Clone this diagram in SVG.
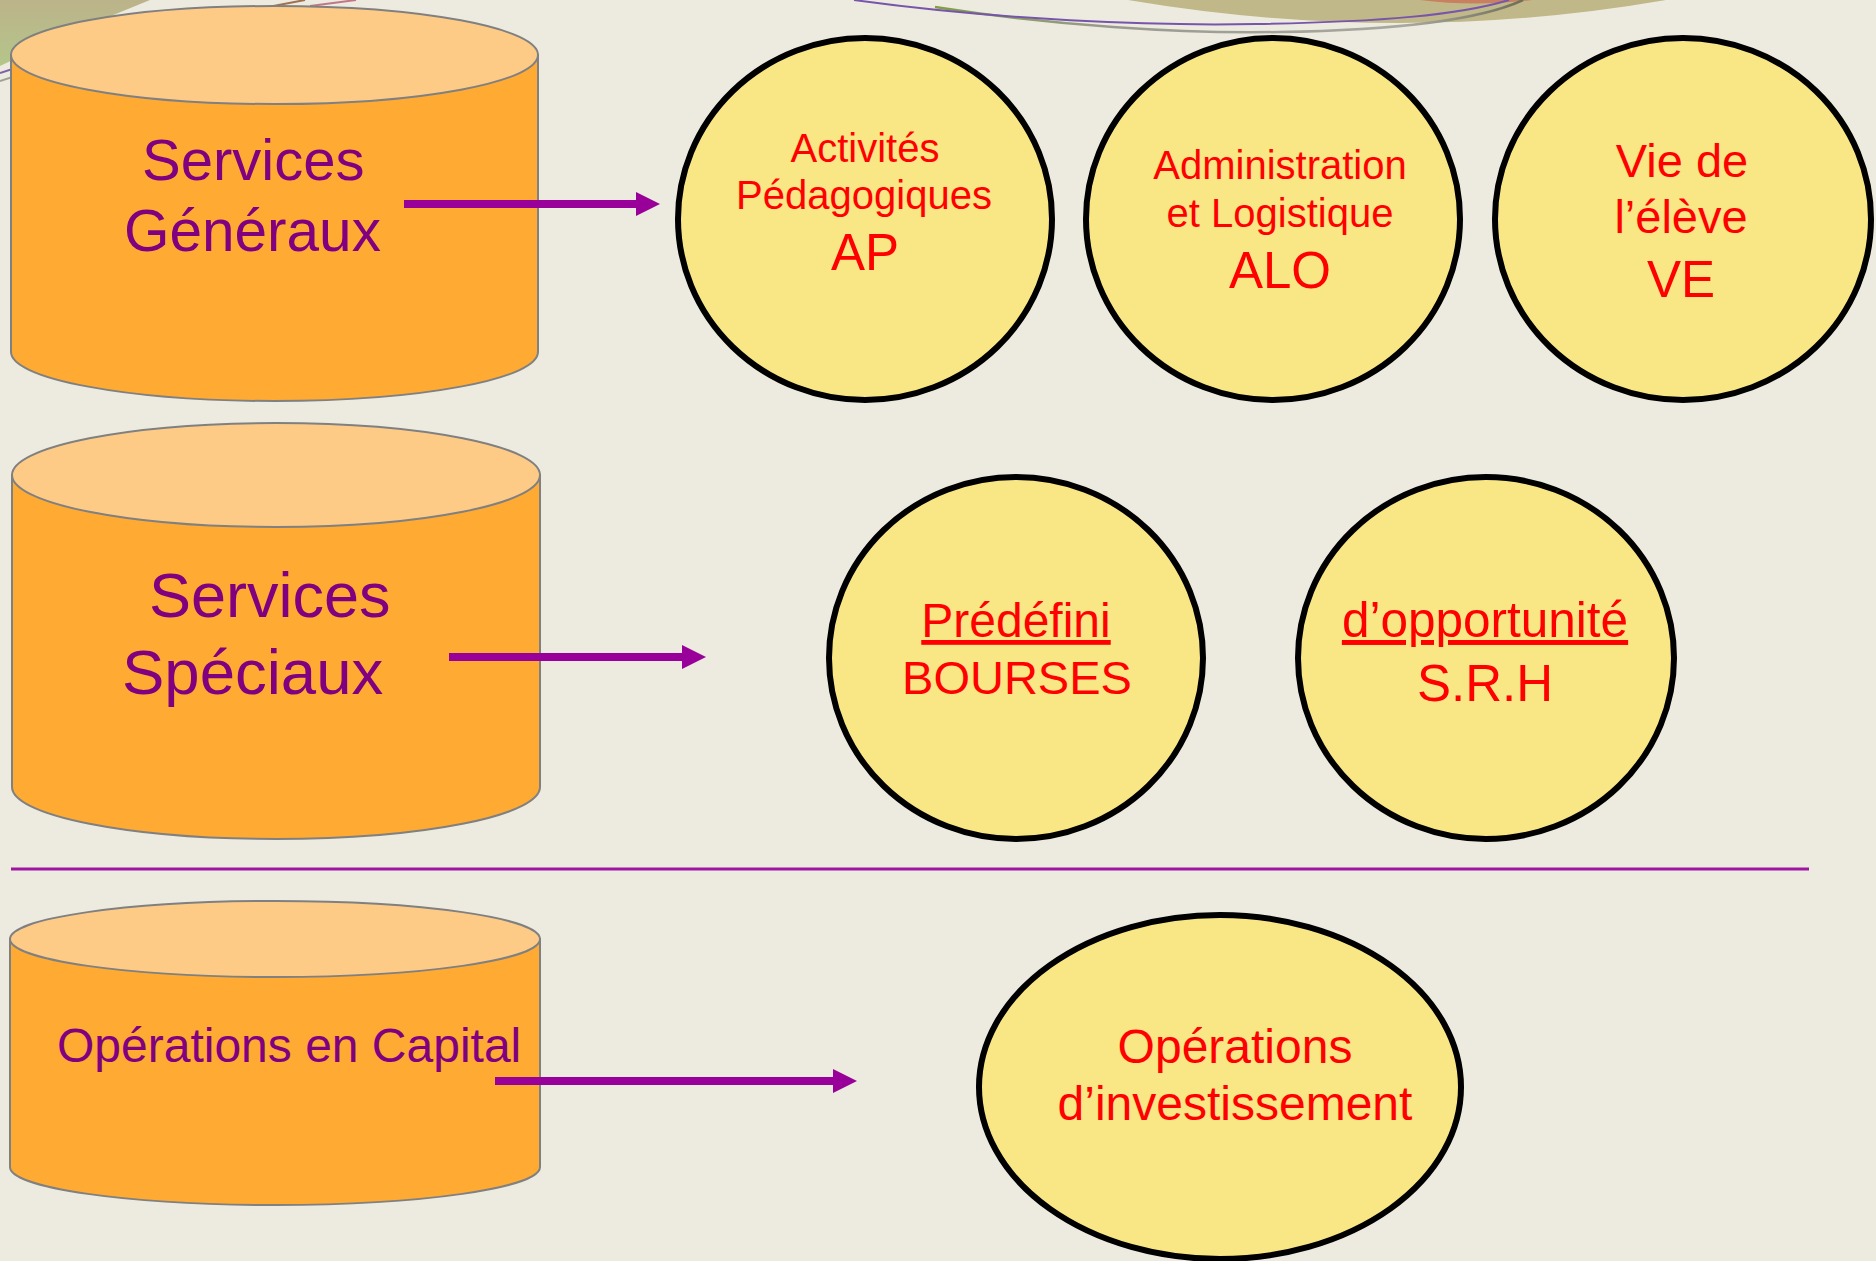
<svg xmlns="http://www.w3.org/2000/svg" width="1876" height="1261" viewBox="0 0 1876 1261">
  <defs>
    <linearGradient id="tlGrad" x1="0" y1="0" x2="0" y2="1">
      <stop offset="0" stop-color="#BCB38A"/>
      <stop offset="1" stop-color="#B4C68A"/>
    </linearGradient>
    <linearGradient id="curveGrad" x1="935" y1="0" x2="1523" y2="0" gradientUnits="userSpaceOnUse">
      <stop offset="0" stop-color="#7FA040"/>
      <stop offset="0.3" stop-color="#9A9A90"/>
      <stop offset="0.8" stop-color="#A8A8A0"/>
      <stop offset="1" stop-color="#6E6E58"/>
    </linearGradient>
    <marker id="arrowHead" markerUnits="userSpaceOnUse" viewBox="0 0 24 24" refX="0" refY="12" markerWidth="24" markerHeight="24" orient="auto">
      <path d="M0,0 L24,12 L0,24 Z" fill="#990099"/>
    </marker>
    <style>
      .cylBody { fill: #FEAA33; stroke: #808080; stroke-width: 2; }
      .cylTop { fill: #FECB87; stroke: #808080; stroke-width: 2; }
      .oval { fill: #F9E685; stroke: #000000; stroke-width: 6; }
      .ptxt { font-family: "Liberation Sans", Arial, sans-serif; fill: #800080; }
      .rtxt { font-family: "Liberation Sans", Arial, sans-serif; fill: #FF0000; text-anchor: middle; }
      .conn { stroke: #990099; stroke-width: 8; fill: none; marker-end: url(#arrowHead); }
    </style>
  </defs>

  <rect x="0" y="0" width="1876" height="1261" fill="#EDEBE0"/>

  <!-- background decorations -->
  <g id="decor">
    <path d="M0,0 L150,0 Q70,32 0,66 Z" fill="url(#tlGrad)"/>
    <path d="M0,73 L40,60" stroke="#8060A8" stroke-width="2" fill="none"/>
    <path d="M0,81 L40,68" stroke="#A0A098" stroke-width="2" fill="none"/>
    <path d="M268,7 L305,0" stroke="#A07050" stroke-width="2" fill="none"/>
    <path d="M310,6 L356,0" stroke="#C07888" stroke-width="2" fill="none"/>
    <path d="M1128,0 Q1400,46 1666,0 Z" fill="#C0B888"/>
    <path d="M1420,0 Q1475,7 1532,0 Z" fill="#C98060"/>
    <path d="M935,7 C1050,25 1180,34 1279,32 C1400,30 1480,20 1523,0" stroke="url(#curveGrad)" stroke-width="2.5" fill="none"/>
    <path d="M854,0 C1000,20 1150,26 1256,24 C1380,22 1460,15 1509,0" stroke="#7755AA" stroke-width="2" fill="none"/>
  </g>

  <!-- cylinders -->
  <g id="cyl-generaux">
    <path class="cylBody" d="M11,55 L11,352 A263.5,49 0 0 0 538,352 L538,55 Z"/>
    <ellipse class="cylTop" cx="274.5" cy="55" rx="263.5" ry="49"/>
    <text class="ptxt" x="142" y="180" font-size="58">Services</text>
    <text class="ptxt" x="124" y="251" font-size="58.5">Généraux</text>
  </g>
  <g id="cyl-speciaux">
    <path class="cylBody" d="M12,475 L12,787 A264,52 0 0 0 540,787 L540,475 Z"/>
    <ellipse class="cylTop" cx="276" cy="475" rx="264" ry="52"/>
    <text class="ptxt" x="149" y="617" font-size="63">Services</text>
    <text class="ptxt" x="122" y="694" font-size="63.5">Spéciaux</text>
  </g>
  <g id="cyl-capital">
    <path class="cylBody" d="M10,939 L10,1167 A265,38 0 0 0 540,1167 L540,939 Z"/>
    <ellipse class="cylTop" cx="275" cy="939" rx="265" ry="38"/>
    <text class="ptxt" x="57" y="1062" font-size="48">Opérations en Capital</text>
  </g>

  <!-- ovals -->
  <g id="oval-ap">
    <ellipse class="oval" cx="865" cy="219" rx="187" ry="181"/>
    <text class="rtxt" x="865" y="162" font-size="40">Activités</text>
    <text class="rtxt" x="864" y="209" font-size="40">Pédagogiques</text>
    <text class="rtxt" x="865" y="270" font-size="51">AP</text>
  </g>
  <g id="oval-alo">
    <ellipse class="oval" cx="1273" cy="219" rx="187" ry="181"/>
    <text class="rtxt" x="1280" y="179" font-size="40">Administration</text>
    <text class="rtxt" x="1280" y="227" font-size="40">et Logistique</text>
    <text class="rtxt" x="1280" y="288" font-size="51">ALO</text>
  </g>
  <g id="oval-ve">
    <ellipse class="oval" cx="1683" cy="219" rx="188" ry="181"/>
    <text class="rtxt" x="1682" y="177" font-size="47">Vie de</text>
    <text class="rtxt" x="1681" y="233" font-size="47">l’élève</text>
    <text class="rtxt" x="1681" y="297" font-size="51">VE</text>
  </g>
  <g id="oval-bourses">
    <ellipse class="oval" cx="1016" cy="658" rx="187" ry="181"/>
    <text class="rtxt" x="1016" y="637" font-size="48" text-decoration="underline">Prédéfini</text>
    <text class="rtxt" x="1017" y="694" font-size="47">BOURSES</text>
  </g>
  <g id="oval-srh">
    <ellipse class="oval" cx="1486" cy="658" rx="188" ry="181"/>
    <text class="rtxt" x="1485" y="637" font-size="49.5" text-decoration="underline">d’opportunité</text>
    <text class="rtxt" x="1485" y="701" font-size="51">S.R.H</text>
  </g>
  <g id="oval-invest">
    <ellipse class="oval" cx="1220" cy="1087" rx="241" ry="172"/>
    <text class="rtxt" x="1235" y="1063" font-size="48">Opérations</text>
    <text class="rtxt" x="1235" y="1120" font-size="48">d’investissement</text>
  </g>

  <!-- connectors -->
  <g id="connectors">
    <line class="conn" x1="404" y1="204" x2="636" y2="204"/>
    <line class="conn" x1="449" y1="657" x2="682" y2="657"/>
    <line class="conn" x1="495" y1="1081" x2="833" y2="1081"/>
    <line x1="11" y1="869" x2="1809" y2="869" stroke="#A0159F" stroke-width="3"/>
  </g>
</svg>
